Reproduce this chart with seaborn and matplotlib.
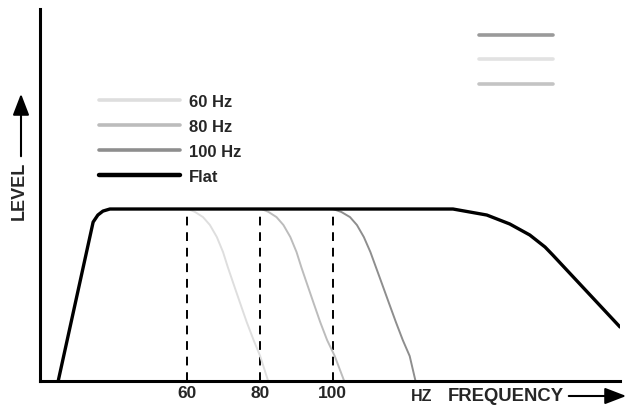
import matplotlib
matplotlib.use("Agg")
import matplotlib.pyplot as plt
import seaborn as sns
from matplotlib.lines import Line2D
from matplotlib.patches import FancyArrowPatch

sns.set_style("white")
plt.rcParams['font.family'] = ['Liberation Sans', 'DejaVu Sans']

# -----------------------------
# data (x in Hz, level in arbitrary units, flat = 100)
# -----------------------------
flat_hz = [24.6, 34.2, 35.5, 36.9, 38.8, 133.1, 142.4, 148.7, 154.2, 158.4, 160.5, 179.0]
flat_lvl = [0, 92.4, 96.5, 98.8, 100, 100, 96.5, 91.3, 84.9, 77.9, 73.3, 31.4]

hz_60 = [60.3, 62.2, 64.4, 66.3, 68.2, 69.9, 71.2, 72.6, 74.5, 76.4, 78.3, 80.1, 82.3]
lvl_60 = [100, 98.3, 95.3, 90.7, 83.7, 75, 66.3, 57.6, 45.9, 34.3, 23.8, 14.5, 0]

hz_80 = [80.5, 82.4, 84.6, 86.5, 88.4, 90.1, 91.4, 92.8, 94.7, 96.6, 98.5, 100.6, 103.2]
lvl_80 = [100, 98.3, 95.3, 90.7, 83.7, 75, 66.3, 57.6, 45.9, 34.3, 23.8, 14.5, 0]

hz_100 = [100.1, 102.4, 104.8, 106.7, 108.6, 110.4, 111.9, 113.4, 115.4, 117.4, 119.3, 121.2, 122.8]
lvl_100 = [100, 98.3, 95.3, 90.7, 83.7, 75, 66.3, 57.6, 45.9, 34.3, 23.8, 14.5, 0]

marker_hz = [60, 80, 100]
tick_labels = ["60", "80", "100"]

series_names = ["60 Hz", "80 Hz", "100 Hz", "Flat"]
series_colors = ["#dedede", "#bcbcbc", "#8e8e8e", "#000000"]
corner_colors = ["#9a9a9a", "#e2e2e2", "#c4c4c4"]

# -----------------------------
# figure
# -----------------------------
fig = plt.figure(figsize=(6.3, 4.1), dpi=100)
ax = fig.add_axes([40 / 630, 28 / 410, 580 / 630, 372 / 410])

for x in marker_hz:
    ax.plot([x, x], [0, 97.5], color="black", lw=1.4, ls=(0, (4.5, 3.5)))

sns.lineplot(x=hz_60, y=lvl_60, sort=False, color=series_colors[0], lw=1.4, ax=ax)
sns.lineplot(x=hz_80, y=lvl_80, sort=False, color=series_colors[1], lw=1.4, ax=ax)
sns.lineplot(x=hz_100, y=lvl_100, sort=False, color=series_colors[2], lw=1.4, ax=ax)
sns.lineplot(x=flat_hz, y=flat_lvl, sort=False, color=series_colors[3], lw=2.4, ax=ax)

ax.set_xlim(19.6, 179.0)
ax.set_ylim(0, 216.3)

for side in ["top", "right"]:
    ax.spines[side].set_visible(False)
for side in ["left", "bottom"]:
    ax.spines[side].set_linewidth(2.2)
    ax.spines[side].set_color("black")

ax.set_xticks(marker_hz)
ax.set_xticklabels(tick_labels, fontsize=12.5, fontweight="bold")
ax.set_yticks([])
ax.tick_params(axis="x", length=0, pad=3)

# legend on the left
handles = [Line2D([0], [0], color=c, lw=3.2 if n == "Flat" else 2.6)
           for n, c in zip(series_names, series_colors)]
leg = ax.legend(handles, series_names, loc="upper left", bbox_to_anchor=(0.075, 0.812),
                frameon=False, handlelength=4.9, handletextpad=0.55, labelspacing=0.6,
                prop={"weight": "bold", "size": 12})
ax.add_artist(leg)

# unlabelled lines on the top right
corner = [Line2D([0], [0], color=c, lw=2.6) for c in corner_colors]
ax.legend(corner, ["", "", ""], loc="upper left", bbox_to_anchor=(0.734, 0.982),
          frameon=False, handlelength=5.1, handletextpad=0, labelspacing=0.72,
          prop={"size": 10.5})

# axis titles with arrows
arrow_style = "-|>,head_length=1.3,head_width=0.5"
fig.text(19 / 630, 1 - 191 / 410, "LEVEL", rotation=90, ha="center", va="center",
         fontsize=13, fontweight="bold")
fig.add_artist(FancyArrowPatch(
    (21 / 630, 1 - 160 / 410), (21 / 630, 1 - 92 / 410), transform=fig.transFigure,
    arrowstyle=arrow_style, mutation_scale=10, color="black", lw=1.5))

fig.text(411 / 630, 1 - 397 / 410, "HZ", ha="left", va="center",
         fontsize=11.5, fontweight="bold")
fig.text(448 / 630, 1 - 397 / 410, "FREQUENCY", ha="left", va="center",
         fontsize=13.3, fontweight="bold")
fig.add_artist(FancyArrowPatch(
    (566 / 630, 1 - 397 / 410), (629 / 630, 1 - 397 / 410), transform=fig.transFigure,
    arrowstyle=arrow_style, mutation_scale=10, color="black", lw=1.5))

plt.savefig("out.png", dpi=100)
